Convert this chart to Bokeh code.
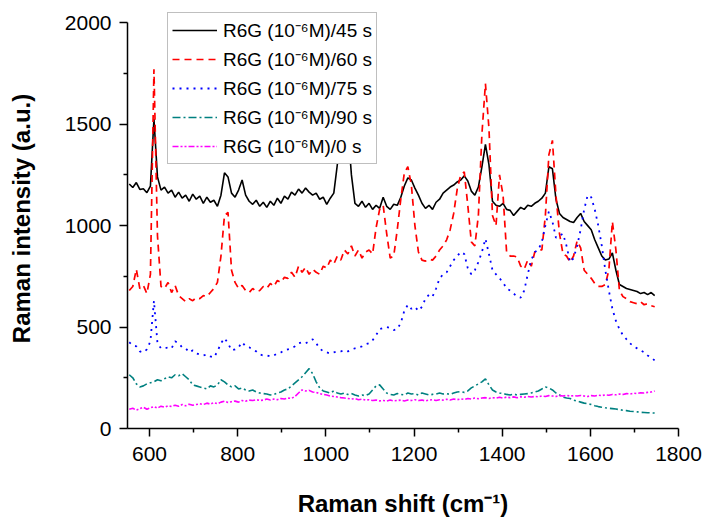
from bokeh.plotting import figure
from bokeh.models import Range1d, FixedTicker, Legend, LegendItem
from bokeh.embed import file_html
from bokeh.resources import INLINE

# Raman shift sampling positions (cm^-1)
raman_shift = list(range(554, 1750, 8))

int_45s = [
    1205, 1188, 1212, 1178, 1182, 1162, 1195, 1525, 1240, 1175,
    1190, 1160, 1175, 1140, 1165, 1135, 1150, 1120, 1155, 1130,
    1145, 1110, 1140, 1115, 1125, 1095, 1150, 1260, 1240, 1160,
    1140, 1175, 1225, 1150, 1120, 1105, 1125, 1095, 1115, 1090,
    1120, 1100, 1135, 1110, 1145, 1130, 1165, 1150, 1180, 1160,
    1185, 1165, 1150, 1160, 1130, 1140, 1105, 1135, 1160, 1300,
    1520, 1620, 1480, 1250, 1110, 1095, 1120, 1090, 1110, 1080,
    1100, 1085, 1140, 1095, 1080, 1105, 1100, 1140, 1195, 1235,
    1225, 1185, 1150, 1110, 1085, 1100, 1080, 1115, 1130, 1160,
    1175, 1190, 1200, 1215, 1225, 1245, 1220, 1170, 1150, 1190,
    1290, 1400, 1300, 1120, 1100, 1095, 1110, 1080, 1075, 1050,
    1070, 1090, 1080, 1100, 1095, 1110, 1120, 1135, 1160, 1290,
    1280, 1130, 1060, 1040, 1030, 1020, 1015, 1040, 1060, 1020,
    1000, 980, 930, 890, 850, 830, 835, 865, 780, 710,
    700, 690, 685, 680, 675, 665, 670, 660, 670, 655,
]

int_60s = [
    680, 700, 785, 690, 705, 665, 760, 1770, 950, 700,
    690, 720, 670, 705, 655, 640, 625, 640, 630, 645,
    640, 655, 650, 670, 690, 720, 850, 1050, 1065, 780,
    720, 690, 705, 680, 670, 690, 675, 680, 700, 690,
    715, 700, 730, 720, 745, 740, 770, 745, 800, 770,
    795, 760, 785, 770, 760, 800, 790, 830, 810, 850,
    830, 880, 860, 900, 850, 880, 840, 870, 880, 860,
    990, 1080, 1100, 960, 840, 850, 980, 1130, 1260, 1290,
    1200, 1000, 870, 830, 825, 835, 830, 850, 880, 900,
    930, 980, 1060, 1180, 1250, 1265, 1100, 920, 900, 1050,
    1450, 1700, 1480, 1050, 1000, 1250, 1150, 870, 850, 850,
    845, 800, 785, 830, 800, 870, 880, 880, 1050, 1350,
    1420, 1150, 960, 860, 850, 820, 850, 925, 890, 780,
    760, 740, 715, 700, 700, 710, 780, 1020, 880, 680,
    650, 640, 625, 620, 615, 625, 610, 615, 605, 600,
]

int_75s = [
    425, 410, 405, 380, 375, 390, 430, 630, 420, 395,
    395, 400, 395, 430, 420, 400, 395, 375, 385, 370,
    365, 360, 365, 355, 350, 380, 420, 445, 420, 385,
    390, 400, 425, 405, 400, 390, 380, 365, 360, 360,
    355, 360, 370, 375, 385, 390, 395, 405, 420, 425,
    420, 430, 440, 420, 395, 380, 375, 370, 375, 380,
    380, 385, 380, 390, 395, 400, 405, 415, 420, 435,
    460, 490, 495, 500, 495, 485, 490, 520, 580, 610,
    590, 600, 580, 600, 640, 660, 650, 690, 740, 760,
    770, 800, 830, 850, 870, 860, 790, 760, 780, 820,
    870, 935, 860, 780, 760, 740, 720, 690, 680, 665,
    650, 645, 680, 760, 830, 870, 880, 920, 1000, 1070,
    1020, 940, 950, 960, 900, 820, 840, 900, 980, 1080,
    1150, 1140, 1080, 1000, 900, 780, 680, 590, 530, 490,
    460, 440, 420, 405, 395, 385, 375, 360, 350, 335,
]

int_90s = [
    265, 250, 220, 205, 210, 220, 225, 230, 240, 235,
    245, 255, 250, 265, 260, 270, 255, 240, 215, 210,
    205, 200, 195, 210, 205, 215, 240, 230, 215, 205,
    210, 195, 200, 190, 185, 190, 180, 175, 172, 170,
    165, 168, 175, 180, 190, 195, 210, 225, 240, 255,
    275, 295, 270, 230, 200, 185, 180, 175, 185, 175,
    170, 175, 168, 172, 165, 160, 165, 162, 170, 190,
    210, 215, 195, 175, 168, 165, 172, 168, 165, 175,
    170, 172, 165, 175, 170, 165, 168, 170, 175, 170,
    172, 168, 175, 180, 182, 178, 185, 200, 210, 220,
    230, 245, 215, 190, 180, 175, 172, 168, 165, 170,
    165, 168, 170, 172, 175, 180, 185, 195, 205, 200,
    190, 175, 165, 155, 150, 148, 140, 135, 130, 125,
    122, 118, 112, 108, 105, 102, 100, 98, 96, 93,
    90, 88, 85, 84, 82, 80, 79, 78, 77, 76,
]

int_0s = [
    95, 100, 90, 98, 105, 95, 102, 108, 100, 110,
    105, 112, 108, 115, 110, 118, 112, 120, 115, 118,
    122, 118, 125, 120, 128, 122, 130, 135, 128, 132,
    135, 130, 138, 135, 140, 138, 142, 138, 140, 145,
    140, 145, 142, 148, 145, 150, 148, 158, 175, 190,
    185, 188, 180, 178, 172, 168, 165, 160, 158, 155,
    152, 150, 148, 145, 148, 142, 145, 140, 142, 138,
    140, 136, 138, 135, 140, 136, 138, 140, 136, 140,
    138, 142, 138, 140, 136, 140, 142, 138, 142, 140,
    144, 140, 145, 142, 146, 143, 148, 145, 150, 147,
    150, 152, 148, 152, 150, 154, 150, 155, 152, 156,
    152, 156, 154, 158, 155, 158, 156, 160, 158, 162,
    160, 158, 162, 160, 163, 160, 162, 160, 163, 160,
    158, 162, 160, 164, 162, 166, 164, 168, 166, 170,
    168, 172, 170, 174, 172, 176, 175, 178, 180, 185,
]

series_labels = [
    "R6G (10\u207b\u2076M)/45 s",
    "R6G (10\u207b\u2076M)/60 s",
    "R6G (10\u207b\u2076M)/75 s",
    "R6G (10\u207b\u2076M)/90 s",
    "R6G (10\u207b\u2076M)/0 s",
]

x_ticks = [600, 800, 1000, 1200, 1400, 1600, 1800]
x_minor = [700, 900, 1100, 1300, 1500, 1700]
y_ticks = [0, 500, 1000, 1500, 2000]
y_minor = [250, 750, 1250, 1750]

FONT = "Liberation Sans"

# frame extends a little above 2000 so the legend (which sits partly above
# the top of the y axis in the reference) is not clipped; the axis itself
# is bounded to 0..2000.
p = figure(width=702, height=520, output_backend="svg", toolbar_location=None,
           x_range=Range1d(550, 1800), y_range=Range1d(0, 2070),
           min_border_left=127, min_border_right=24,
           min_border_top=8, min_border_bottom=92)

p.outline_line_color = None
p.grid.visible = False
p.background_fill_color = "white"

styles = [
    dict(color="black", line_width=1.6, line_dash="solid"),
    dict(color="#FF0000", line_width=1.7, line_dash="7 5"),
    dict(color="#0000FF", line_width=1.8, line_dash="2 5"),
    dict(color="#008080", line_width=1.6, line_dash="8 3 2 3"),
    dict(color="#FF00FF", line_width=1.6, line_dash="6 2 2 2 2 2"),
]
series = [int_45s, int_60s, int_75s, int_90s, int_0s]

renderers = []
for ys, st in zip(series, styles):
    r = p.line(raman_shift, ys, line_color=st["color"], line_width=st["line_width"],
               line_dash=st["line_dash"])
    renderers.append(r)

for ax in (p.xaxis[0], p.yaxis[0]):
    ax.axis_line_width = 1.5
    ax.axis_line_color = "black"
    ax.major_tick_line_width = 1.5
    ax.minor_tick_line_width = 1.5
    ax.major_tick_out = 8
    ax.major_tick_in = 0
    ax.minor_tick_out = 4
    ax.minor_tick_in = 0
    ax.major_label_text_font = FONT
    ax.major_label_text_font_size = "21px"
    ax.major_label_text_color = "black"
    ax.axis_label_text_font = FONT
    ax.axis_label_text_font_style = "bold"
    ax.axis_label_text_font_size = "24px"
    ax.axis_label_text_color = "black"

p.xaxis.ticker = FixedTicker(ticks=x_ticks, minor_ticks=x_minor)
p.yaxis.ticker = FixedTicker(ticks=y_ticks, minor_ticks=y_minor)
p.yaxis.bounds = (0, 2000)
p.xaxis.axis_label = "Raman shift (cm\u207b\u00b9)"
p.yaxis.axis_label = "Raman intensity (a.u.)"
p.xaxis.major_label_standoff = 10
p.yaxis.major_label_standoff = 8
p.xaxis.axis_label_standoff = 26
p.yaxis.axis_label_standoff = 27

items = [LegendItem(label=lab, renderers=[r]) for lab, r in zip(series_labels, renderers)]
legend = Legend(items=items, location=(40, 264), margin=0,
                label_text_font=FONT, label_text_font_size="19px",
                label_text_color="black",
                glyph_width=45, glyph_height=20, label_height=20,
                label_standoff=6, spacing=3, padding=4,
                border_line_color="#808080", border_line_width=1,
                background_fill_color="white", background_fill_alpha=1.0)
p.add_layout(legend)

open("out.html", "w").write(file_html(p, INLINE))
